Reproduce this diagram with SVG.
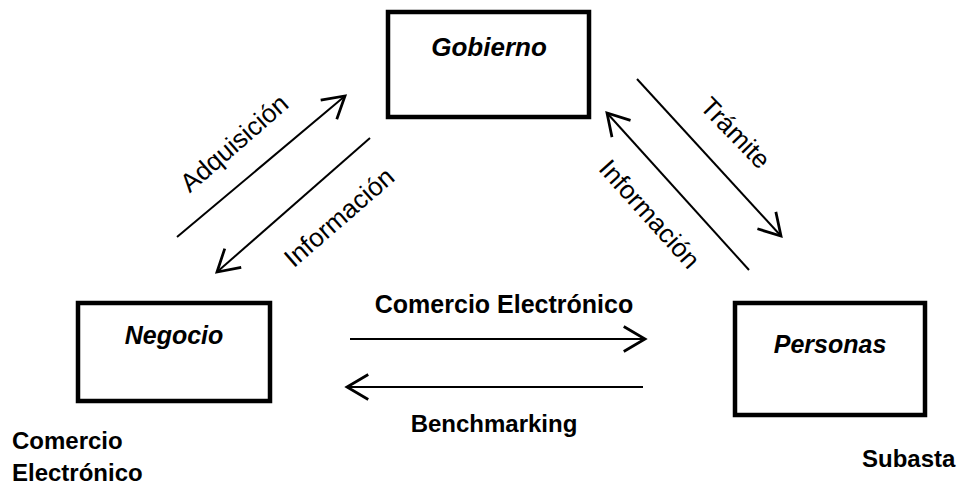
<svg xmlns="http://www.w3.org/2000/svg" width="960" height="490" viewBox="0 0 960 490">
<defs>
<style>
.box{fill:#fff;stroke:#000;stroke-width:4.5}
.nt{font-family:"Liberation Sans",Arial,sans-serif;font-weight:bold;font-style:italic;font-size:25px;text-anchor:middle;fill:#000}
.bl{font-family:"Liberation Sans",Arial,sans-serif;font-weight:bold;font-size:24px;fill:#000}
.rl{font-family:"Liberation Sans",Arial,sans-serif;font-size:26px;text-anchor:middle;fill:#000}
.ln{stroke:#000;stroke-width:2;fill:none}
</style>
<marker id="ah" markerUnits="userSpaceOnUse" markerWidth="30" markerHeight="30" viewBox="-20 -12 24 24" refX="0" refY="0" orient="auto">
<path d="M-17,-10 L0,0 L-17,10" fill="none" stroke="#000" stroke-width="2.2"/>
</marker>
</defs>
<rect width="960" height="490" fill="#fff"/>
<g id="gobierno">
<rect class="box" x="388" y="12" width="201" height="105"/>
<text class="nt" x="489" y="56" style="font-size:26px">Gobierno</text>
</g>
<g id="negocio">
<rect class="box" x="78" y="303" width="192" height="98"/>
<text class="nt" x="174" y="344">Negocio</text>
</g>
<g id="personas">
<rect class="box" x="735" y="303" width="190" height="112"/>
<text class="nt" x="830" y="353">Personas</text>
</g>
<g id="connectors">
<line class="ln" x1="177" y1="237" x2="345" y2="96" marker-end="url(#ah)"/>
<line class="ln" x1="370" y1="138" x2="217" y2="272" marker-end="url(#ah)"/>
<line class="ln" x1="637" y1="79" x2="781" y2="236" marker-end="url(#ah)"/>
<line class="ln" x1="749" y1="270" x2="607" y2="113" marker-end="url(#ah)"/>
<line class="ln" x1="350" y1="339" x2="645" y2="339" marker-end="url(#ah)"/>
<line class="ln" x1="643" y1="387" x2="347" y2="387" marker-end="url(#ah)"/>
<text class="rl" transform="translate(240,150) rotate(-41)">Adquisición</text>
<text class="rl" transform="translate(345,224) rotate(-41)">Información</text>
<text class="rl" transform="translate(729,139) rotate(46)">Trámite</text>
<text class="rl" transform="translate(643,220) rotate(48)">Información</text>
<text class="bl" x="504" y="313" text-anchor="middle" style="font-size:25px">Comercio Electrónico</text>
<text class="bl" x="494" y="432" text-anchor="middle">Benchmarking</text>
</g>
<text class="bl" x="12" y="449">Comercio</text>
<text class="bl" x="12" y="481">Electrónico</text>
<text class="bl" x="862" y="467">Subasta</text>
</svg>
